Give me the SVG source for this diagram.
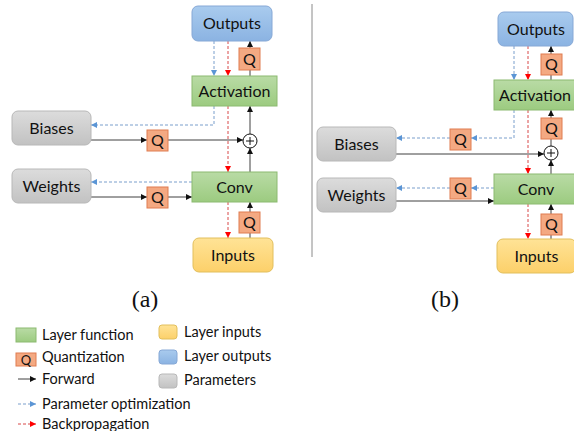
<svg xmlns="http://www.w3.org/2000/svg" width="574" height="431" viewBox="0 0 574 431">
<style>
text{font-family:Lato,"Liberation Sans",sans-serif;fill:#111}
.nt{font-size:16px;text-anchor:middle}
.qt{font-size:16px;text-anchor:middle}
.lg{font-size:14.5px}
.cap{font-family:"Liberation Serif",serif;font-size:24px;text-anchor:middle}
.g{fill:url(#gG);stroke:#8cba70;stroke-width:1}
.b{fill:url(#gB);stroke:#86a8d6;stroke-width:1}
.y{fill:url(#gY);stroke:#e2bf5c;stroke-width:1}
.p{fill:url(#gP);stroke:#b8b8b8;stroke-width:1}
.q{fill:#f4a982;stroke:#e07c50;stroke-width:1}
.f{fill:none;stroke:#404040;stroke-width:1;marker-end:url(#mk)}
.fl{fill:none;stroke:#404040;stroke-width:1}
.bd{fill:none;stroke:#7a9fcc;stroke-width:1;stroke-dasharray:3 2;marker-end:url(#mb)}
.rd{fill:none;stroke:#d84848;stroke-width:1;stroke-dasharray:3 2;marker-end:url(#mr)}
</style>
<defs>
<linearGradient id="gG" x1="0" y1="0" x2="0" y2="1"><stop offset="0" stop-color="#b9dba5"/><stop offset="1" stop-color="#9ccb80"/></linearGradient>
<linearGradient id="gB" x1="0" y1="0" x2="0" y2="1"><stop offset="0" stop-color="#a9cbee"/><stop offset="1" stop-color="#8bb3e2"/></linearGradient>
<linearGradient id="gY" x1="0" y1="0" x2="0" y2="1"><stop offset="0" stop-color="#ffe396"/><stop offset="1" stop-color="#fcd06a"/></linearGradient>
<linearGradient id="gP" x1="0" y1="0" x2="0" y2="1"><stop offset="0" stop-color="#dcdcdc"/><stop offset="1" stop-color="#c2c2c2"/></linearGradient>
<marker id="mk" viewBox="0 0 6 6" refX="6" refY="3" markerWidth="6" markerHeight="6" markerUnits="userSpaceOnUse" orient="auto"><path d="M0,0L6,3L0,6z" fill="#111"/></marker>
<marker id="mb" viewBox="0 0 6 6" refX="6" refY="3" markerWidth="6" markerHeight="6" markerUnits="userSpaceOnUse" orient="auto"><path d="M0,0L6,3L0,6z" fill="#5b95d5"/></marker>
<marker id="mr" viewBox="0 0 6 6" refX="6" refY="3" markerWidth="6" markerHeight="6" markerUnits="userSpaceOnUse" orient="auto"><path d="M0,0L6,3L0,6z" fill="#ff0000"/></marker>
</defs>

<g id="connectors">
<path class="bd" d="M214,41V76"/>
<path class="rd" d="M228,41V76"/>
<path class="fl" d="M250,76V70"/>
<path class="f" d="M250,48V41"/>
<path class="bd" d="M214,106V125H91"/>
<path class="rd" d="M228,106V172"/>
<path class="f" d="M91,140H147"/>
<path class="f" d="M168,140H243"/>
<path class="f" d="M250,134V106"/>
<path class="f" d="M250,172V148"/>
<path class="bd" d="M192,182H91"/>
<path class="f" d="M91,197H147"/>
<path class="f" d="M168,197H192"/>
<path class="fl" d="M250,238V233"/>
<path class="f" d="M250,212V202"/>
<path class="rd" d="M228,202V238"/>
<path class="bd" d="M514,46V80"/>
<path class="rd" d="M528,46V80"/>
<path class="fl" d="M551,80V75"/>
<path class="f" d="M551,54V46"/>
<path class="fl" d="M551,146V139"/>
<path class="f" d="M551,118V110"/>
<path class="bd" d="M514,110V138H471"/>
<path class="bd" d="M450,138H396"/>
<path class="rd" d="M528,110V174"/>
<path class="f" d="M396,154H544"/>
<path class="f" d="M551,174V160"/>
<path class="bd" d="M494,188H471"/>
<path class="bd" d="M450,188H396"/>
<path class="f" d="M396,201H494"/>
<path class="rd" d="M528,204V239"/>
<path class="fl" d="M551,239V235"/>
<path class="f" d="M551,214V204"/>
</g>

<line x1="312" y1="4" x2="312" y2="257" stroke="#8a8a8a" stroke-width="1"/>

<g id="outA"><rect class="b" x="192" y="6" width="80" height="35" rx="6"/><text class="nt" x="232" y="29">Outputs</text></g>
<g id="actA"><rect class="g" x="192" y="76" width="85" height="30"/><text class="nt" x="234.5" y="97">Activation</text></g>
<g id="convA"><rect class="g" x="192" y="172" width="85" height="30"/><text class="nt" x="234.5" y="193">Conv</text></g>
<g id="inA"><rect class="y" x="193" y="238" width="80" height="34" rx="6"/><text class="nt" x="233" y="261">Inputs</text></g>
<g id="biasA"><rect class="p" x="12" y="111" width="79" height="34" rx="6"/><text class="nt" x="51.5" y="134">Biases</text></g>
<g id="wA"><rect class="p" x="12" y="169" width="79" height="34" rx="6"/><text class="nt" x="51.5" y="192">Weights</text></g>
<g id="qA1"><rect class="q" x="239" y="48" width="21" height="22"/><text class="qt" x="249.5" y="65">Q</text></g>
<g id="qA2"><rect class="q" x="147" y="130" width="21" height="21"/><text class="qt" x="157.5" y="146">Q</text></g>
<g id="qA3"><rect class="q" x="147" y="187" width="21" height="21"/><text class="qt" x="157.5" y="203">Q</text></g>
<g id="qA4"><rect class="q" x="239" y="212" width="21" height="21"/><text class="qt" x="249.5" y="228">Q</text></g>
<g id="plusA"><circle cx="250" cy="141" r="7" fill="#fff" stroke="#111" stroke-width="1"/><path d="M246,141H254M250,137V145" stroke="#111" stroke-width="1"/></g>

<g id="outB"><rect class="b" x="498" y="12" width="75" height="34" rx="6"/><text class="nt" x="536" y="35">Outputs</text></g>
<g id="actB"><rect class="g" x="494" y="80" width="82" height="30"/><text class="nt" x="535" y="101">Activation</text></g>
<g id="convB"><rect class="g" x="494" y="174" width="82" height="30"/><text class="nt" x="536" y="195">Conv</text></g>
<g id="inB"><rect class="y" x="497" y="239" width="79" height="34" rx="6"/><text class="nt" x="536.5" y="262">Inputs</text></g>
<g id="biasB"><rect class="p" x="317" y="127" width="79" height="34" rx="6"/><text class="nt" x="356.5" y="150">Biases</text></g>
<g id="wB"><rect class="p" x="317" y="178" width="79" height="34" rx="6"/><text class="nt" x="356.5" y="201">Weights</text></g>
<g id="qB1"><rect class="q" x="541" y="54" width="21" height="21"/><text class="qt" x="551.5" y="70">Q</text></g>
<g id="qB2"><rect class="q" x="541" y="118" width="21" height="21"/><text class="qt" x="551.5" y="134">Q</text></g>
<g id="qB3"><rect class="q" x="450" y="129" width="21" height="21"/><text class="qt" x="460.5" y="145">Q</text></g>
<g id="qB4"><rect class="q" x="450" y="178" width="21" height="21"/><text class="qt" x="460.5" y="194">Q</text></g>
<g id="qB5"><rect class="q" x="541" y="214" width="21" height="21"/><text class="qt" x="551.5" y="230">Q</text></g>
<g id="plusB"><circle cx="551" cy="153" r="7" fill="#fff" stroke="#111" stroke-width="1"/><path d="M547,153H555M551,149V157" stroke="#111" stroke-width="1"/></g>

<text class="cap" x="145" y="307">(a)</text>
<text class="cap" x="445" y="307">(b)</text>

<g id="legend">
<rect class="g" x="16" y="328" width="20" height="14"/><text class="lg" x="42" y="340">Layer function</text>
<rect class="q" x="16" y="353" width="20" height="13"/><text class="qt" x="26" y="365" style="font-size:13px">Q</text><text class="lg" x="42" y="362">Quantization</text>
<path class="f" d="M18,379H36"/><text class="lg" x="42" y="384">Forward</text>
<path class="bd" d="M18,404H36"/><text class="lg" x="42" y="409">Parameter optimization</text>
<path class="rd" d="M18,424H36"/><text class="lg" x="42" y="429">Backpropagation</text>
<rect class="y" x="159" y="325" width="18" height="14" rx="3"/><text class="lg" x="184" y="337">Layer inputs</text>
<rect class="b" x="159" y="350" width="18" height="14" rx="3"/><text class="lg" x="184" y="361">Layer outputs</text>
<rect class="p" x="159" y="374" width="18" height="14" rx="3"/><text class="lg" x="184" y="385">Parameters</text>
</g>
</svg>
